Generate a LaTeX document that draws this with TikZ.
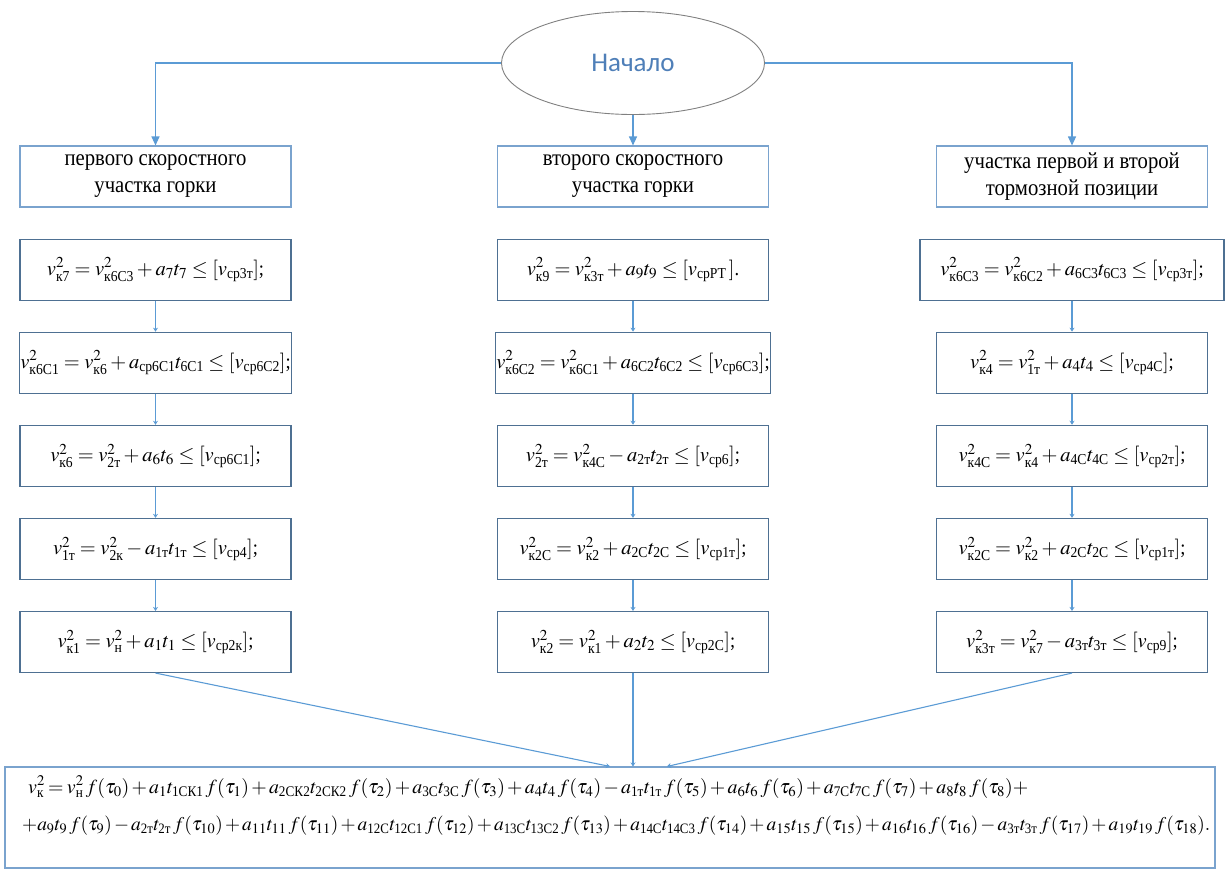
\documentclass[tikz,border=0pt]{standalone}
\usepackage{amsmath}
\usepackage{mathptmx}
\usepackage{graphicx}
\usepackage{fontspec}
\setmainfont[FakeStretch=0.9]{Liberation Serif}
\newfontfamily\startfont{Carlito}
\usetikzlibrary{arrows.meta,positioning,shapes.geometric}

\definecolor{lineblue}{HTML}{5B9BD5}
\definecolor{framegray}{HTML}{4E7092}
\definecolor{headblue}{HTML}{7AA3CE}
\definecolor{startblue}{HTML}{4F7FB8}
\newcommand{\ix}[1]{\text{#1}}
\newcommand{\ft}[1]{\,f(\tau_{#1})}
\newcommand{\tightline}[2]{\medmuskip=2mu\relax\thickmuskip=3mu\relax
  \resizebox{#1}{!}{$#2$}}

\begin{document}
\begin{tikzpicture}[
    x=1pt, y=-1pt,
    font=\fontsize{20.5}{27}\selectfont,
    node distance=31pt,
    every node/.style={align=center},
    box/.style={draw=framegray, line width=1.1pt, minimum height=61pt, inner sep=1pt},
    head/.style={box, draw=headblue, minimum width=271pt, font=\fontsize{23}{27}\selectfont},
    formula/.style={box, minimum width=271pt},
    startnode/.style={ellipse, draw=gray, line width=0.9pt, minimum width=263pt, minimum height=103pt,
        font=\startfont\fontsize{27}{30}\selectfont, text=startblue},
    sumbox/.style={box, draw=headblue, minimum width=1210pt, minimum height=101pt},
    sumline/.style={anchor=west, inner sep=0pt, font=\fontsize{18}{22}\selectfont},
    >={Triangle[length=9pt,width=8pt]},
    link/.style={draw=lineblue, line width=1.1pt},
    arr/.style={link, ->},
    next/.style={link, -{Stealth[length=4pt,width=5pt]}},
]
\useasboundingbox (0,0) rectangle (1225,871);

% --- Start & section headers ---
\node[startnode] (start) at (633,63) {Начало};
\node[head] (h1) at (155.5,176.5) {первого скоростного\\участка горки};
\node[head] (h2) at (633,176.5)   {второго скоростного\\участка горки};
\node[head] (h3) at (1072,176.5)  {участка первой и второй\\тормозной позиции};

% --- Left column ---
\node[formula] (l1) [below=of h1] {$v^2_{\ix{к7}} = v^2_{\ix{к6С3}} + a_7 t_7 \le [v_{\ix{ср3т}}]$;};
\node[formula] (l2) [below=of l1] {$v^2_{\ix{к6С1}} = v^2_{\ix{к6}} + a_{\ix{ср6С1}} t_{\ix{6С1}} \le [v_{\ix{ср6С2}}]$;};
\node[formula] (l3) [below=of l2] {$v^2_{\ix{к6}} = v^2_{\ix{2т}} + a_6 t_6 \le [v_{\ix{ср6С1}}]$;};
\node[formula] (l4) [below=of l3] {$v^2_{\ix{1т}} = v^2_{\ix{2к}} - a_{\ix{1т}} t_{\ix{1т}} \le [v_{\ix{ср4}}]$;};
\node[formula] (l5) [below=of l4] {$v^2_{\ix{к1}} = v^2_{\ix{н}} + a_1 t_1 \le [v_{\ix{ср2к}}]$;};

% --- Middle column ---
\node[formula] (m1) [below=of h2] {$v^2_{\ix{к9}} = v^2_{\ix{к3т}} + a_9 t_9 \le [v_{\ix{срРТ}}\,]$.};
\node[formula] (m2) [below=of m1] {$v^2_{\ix{к6С2}} = v^2_{\ix{к6С1}} + a_{\ix{6С2}} t_{\ix{6С2}} \le [v_{\ix{ср6С3}}]$;};
\node[formula] (m3) [below=of m2] {$v^2_{\ix{2т}} = v^2_{\ix{к4С}} - a_{\ix{2т}} t_{\ix{2т}} \le [v_{\ix{ср6}}]$;};
\node[formula] (m4) [below=of m3] {$v^2_{\ix{к2С}} = v^2_{\ix{к2}} + a_{\ix{2С}} t_{\ix{2С}} \le [v_{\ix{ср1т}}]$;};
\node[formula] (m5) [below=of m4] {$v^2_{\ix{к2}} = v^2_{\ix{к1}} + a_2 t_2 \le [v_{\ix{ср2С}}]$;};

% --- Right column ---
\node[formula, minimum width=304pt] (r1) [below=of h3] {$v^2_{\ix{к6С3}} = v^2_{\ix{к6С2}} + a_{\ix{6С3}} t_{\ix{6С3}} \le [v_{\ix{ср3т}}]$;};
\node[formula] (r2) [below=of r1] {$v^2_{\ix{к4}} = v^2_{\ix{1т}} + a_4 t_4 \le [v_{\ix{ср4С}}]$;};
\node[formula] (r3) [below=of r2] {$v^2_{\ix{к4С}} = v^2_{\ix{к4}} + a_{\ix{4С}} t_{\ix{4С}} \le [v_{\ix{ср2т}}]$;};
\node[formula] (r4) [below=of r3] {$v^2_{\ix{к2С}} = v^2_{\ix{к2}} + a_{\ix{2С}} t_{\ix{2С}} \le [v_{\ix{ср1т}}]$;};
\node[formula] (r5) [below=of r4] {$v^2_{\ix{к3т}} = v^2_{\ix{к7}} - a_{\ix{3т}} t_{\ix{3т}} \le [v_{\ix{ср9}}]$;};

% --- Summary formula ---
\node[sumbox] (sum) at (610,817.5) {};
\node[sumline] (sum1) at (28,787) {\tightline{1000pt}{v^2_{\ix{к}} = v^2_{\ix{н}}\ft{0} + a_1 t_{\ix{1СК1}}\ft{1} + a_{\ix{2СК2}} t_{\ix{2СК2}}\ft{2} + a_{\ix{3С}} t_{\ix{3С}}\ft{3} + a_4 t_4\ft{4} - a_{\ix{1т}} t_{\ix{1т}}\ft{5} + a_6 t_6\ft{6} + a_{\ix{7С}} t_{\ix{7С}}\ft{7} + a_8 t_8\ft{8} +}};
\node[sumline] (sum2) at (22,826) {\tightline{1188pt}{+ a_9 t_9\ft{9} - a_{\ix{2т}} t_{\ix{2т}}\ft{10} + a_{11} t_{11}\ft{11} + a_{\ix{12С}} t_{\ix{12С1}}\ft{12} + a_{\ix{13С}} t_{\ix{13С2}}\ft{13} + a_{\ix{14С}} t_{\ix{14С3}}\ft{14} + a_{15} t_{15}\ft{15} + a_{16} t_{16}\ft{16} - a_{\ix{3т}} t_{\ix{3т}}\ft{17} + a_{19} t_{19}\ft{18}.}};

% --- Arrows from start ---
\draw[arr] (start.west) -| (h1.north);
\draw[arr] (start.south) -- (h2.north);
\draw[arr] (start.east) -| (h3.north);

% --- Arrows down each column ---
\foreach \c in {l,m,r}
  \foreach \i/\j in {1/2,2/3,3/4,4/5}
    \draw[next] (\c\i) -- (\c\j);

% --- Converging on summary ---
\draw[next] (l5.south) -- (sum.north);
\draw[next] (m5.south) -- (m5.south |- sum.north);
\draw[next] (r5.south) -- ([xshift=57pt]sum.north);

\end{tikzpicture}
\end{document}
